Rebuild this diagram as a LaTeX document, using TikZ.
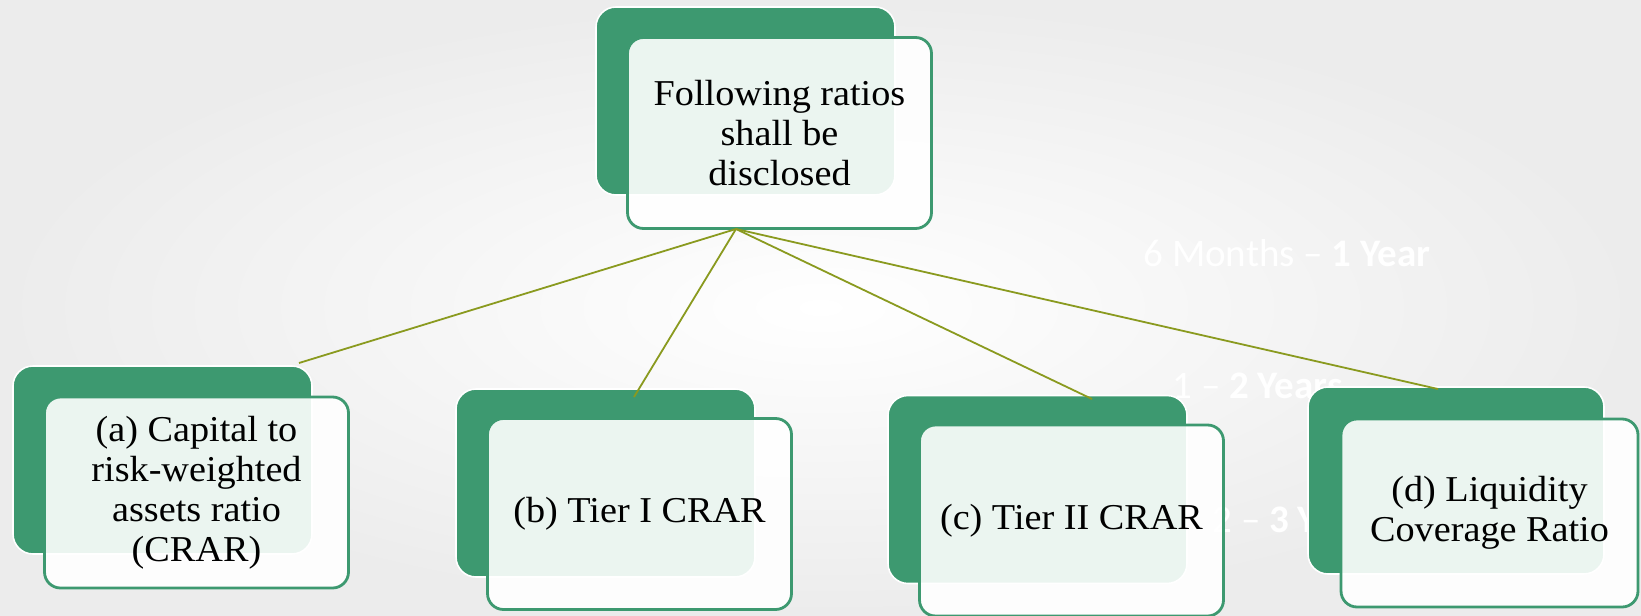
\documentclass[tikz,border=0pt]{standalone}
\usepackage{fontspec}
\setmainfont{Liberation Serif}[FakeStretch=1.05]
\newfontfamily\faintfont{Carlito}
\usepackage{tikz}
\definecolor{boxgreen}{RGB}{61,153,112}
\definecolor{linkolive}{RGB}{138,154,31}
\definecolor{bggray}{RGB}{236,236,236}

\begin{document}
\begin{tikzpicture}[x=0.5pt,y=0.5pt,yscale=-1,
  backbox/.style={draw=white,line width=0.8pt,fill=boxgreen,rounded corners=10pt,minimum width=149.5pt,minimum height=94pt,inner sep=0pt},
  frontbox/.style={draw=boxgreen,line width=1.4pt,fill=white,fill opacity=0.9,text opacity=1,rounded corners=8pt,minimum width=152pt,minimum height=95.5pt,align=center,font=\fontsize{18.2}{20}\selectfont,inner sep=2pt},
  link/.style={draw=linkolive,line width=0.9pt},
  faint/.style={white,font=\faintfont\fontsize{19.5}{22}\selectfont,anchor=base west,inner sep=0pt}]
\useasboundingbox (0,0) rectangle (1641,615);

%Shape: Background
\shade [inner color=white,outer color=bggray] (0,0) rectangle (1641,615);

% Text Node (faint)
\node [faint] (span1) at (1143,266) {6 Months – \textbf{1 Year}};
% Text Node (faint)
\node [faint] (span2) at (1172,398) {1 – \textbf{2 Years}};
% Text Node (faint)
\node [faint] (span3) at (1212,532) {2 – \textbf{3 Years}};

%Shape: Rounded Rect (top)
\node [backbox] (top-back) at (745.5,101) {};
\node [frontbox] (top) at (779.5,133) {Following ratios\\shall be\\disclosed};

%Shape: Rounded Rect (a)
\node [backbox] (crar-back) at (162.5,460) {};
\node [frontbox] (crar) at (196.5,492.5) {(a) Capital to\\risk-weighted\\assets ratio\\(CRAR)};

%Shape: Rounded Rect (b)
\node [backbox] (tier1-back) at (605.5,483) {};
\node [frontbox] (tier1) at (639.5,514) {(b) Tier I CRAR};

%Shape: Rounded Rect (c)
\node [backbox] (tier2-back) at (1037.5,489.5) {};
\node [frontbox] (tier2) at (1071.5,520.5) {(c) Tier II CRAR};

%Shape: Rounded Rect (d)
\node [backbox,minimum width=148pt,minimum height=93.5pt] (lcr-back) at (1456,480.5) {};
\node [frontbox,minimum width=148.5pt,minimum height=94pt] (lcr) at (1489.5,513) {(d) Liquidity\\Coverage Ratio};

% Connector ends
\coordinate (hub) at (736,229);
\coordinate (crar-in) at (299,363);
\coordinate (tier1-in) at (634,397);
\coordinate (tier2-in) at (1092,399);
\coordinate (lcr-in) at (1438,389);

%Straight Lines
\draw [link] (hub) -- (crar-in);
\draw [link] (hub) -- (tier1-in);
\draw [link] (hub) -- (tier2-in);
\draw [link] (hub) -- (lcr-in);

\end{tikzpicture}
\end{document}
